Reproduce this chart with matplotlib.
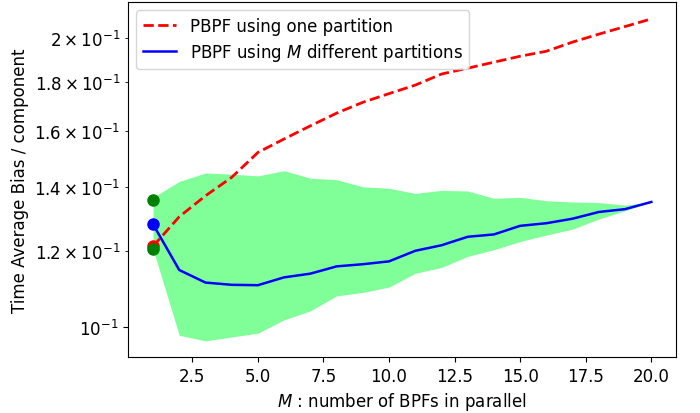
import numpy as np
import matplotlib
matplotlib.use('Agg')
import matplotlib.pyplot as plt

plt.rcParams['font.size'] = 12

# number of BPFs in parallel
M = list(range(1, 21))

# PBPF using one partition
bias_one = [0.1214, 0.1303, 0.1370, 0.1432, 0.1520, 0.1570, 0.1620, 0.1670,
            0.1714, 0.1750, 0.1786, 0.1834, 0.1860, 0.1887, 0.1914, 0.1937,
            0.1980, 0.2018, 0.2055, 0.2093]

# PBPF using M different partitions
bias_multi = [0.1280, 0.1147, 0.1113, 0.1107, 0.1106, 0.1127, 0.1137, 0.1157,
              0.1163, 0.1171, 0.1201, 0.1217, 0.1242, 0.1249, 0.1275, 0.1283,
              0.1297, 0.1318, 0.1327, 0.1350]

# spread of the M-partition runs
bias_upper = [0.1365, 0.1418, 0.1447, 0.1443, 0.1437, 0.1455, 0.1429, 0.1424,
              0.1400, 0.1395, 0.1378, 0.1388, 0.1386, 0.1362, 0.1365, 0.1354,
              0.1350, 0.1348, 0.1340, 0.1350]
bias_lower = [0.1206, 0.0981, 0.0968, 0.0977, 0.0986, 0.1018, 0.1040, 0.1078,
              0.1087, 0.1101, 0.1138, 0.1154, 0.1185, 0.1204, 0.1228, 0.1247,
              0.1265, 0.1296, 0.1322, 0.1350]

# single runs at M = 1
single_runs = [0.1357, 0.1206]

fig = plt.figure(figsize=(7, 4.14), dpi=100)
ax = fig.add_axes([0.183, 0.135, 0.783, 0.858])

ax.fill_between(M, bias_lower, bias_upper, color='#80ff99', linewidth=0)
ax.plot(M, bias_one, 'r--', linewidth=2, label='PBPF using one partition')
ax.plot(M, bias_multi, 'b-', linewidth=1.8, label='PBPF using $M$ different partitions')
ax.plot(M[0], bias_one[0], 'o', color='red', markersize=8)
ax.plot(M[0], bias_multi[0], 'o', color='blue', markersize=8)
ax.plot([M[0]] * len(single_runs), single_runs, 'o', color='green', markersize=8)

ax.set_yscale('log')
ax.set_xlim(0.05, 20.95)
ax.set_ylim(0.0931, 0.218)
ax.set_xlabel('$M$ : number of BPFs in parallel')
ax.set_ylabel('Time Average Bias / component')
ax.legend(loc='upper left', labelspacing=0.35)

fig.savefig('out.png')
